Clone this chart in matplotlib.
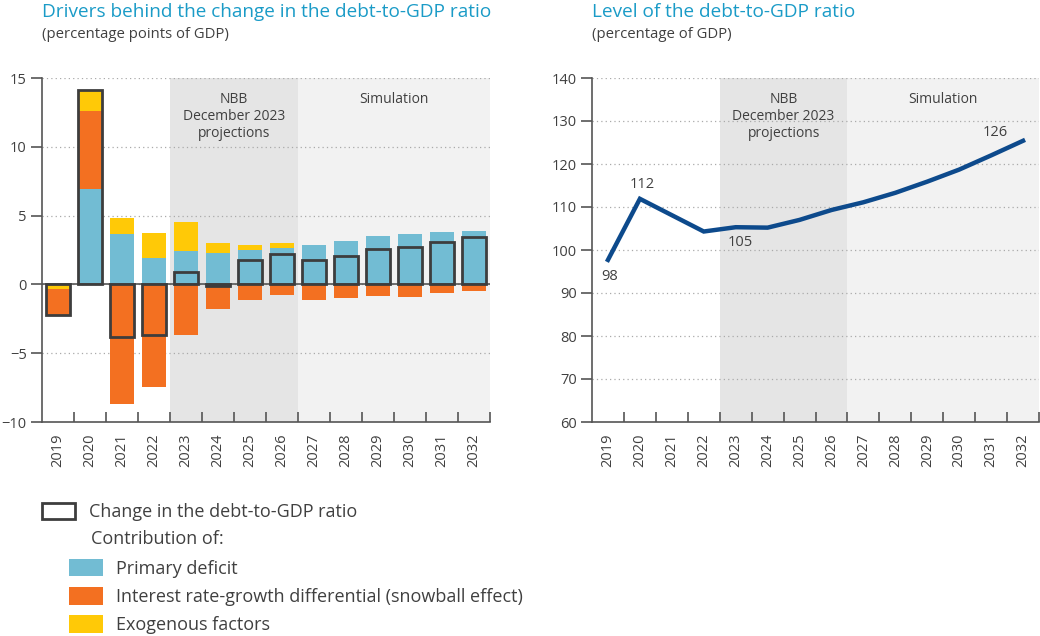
import numpy as np
import matplotlib
matplotlib.use("Agg")
import matplotlib.pyplot as plt
from matplotlib.patches import Patch

plt.rcParams['font.family'] = ['Open Sans', 'DejaVu Sans']

years = ['2019', '2020', '2021', '2022', '2023', '2024', '2025', '2026',
         '2027', '2028', '2029', '2030', '2031', '2032']
primary = [-0.05, 6.9, 3.65, 1.9, 2.4, 2.3, 2.5, 2.65, 2.85, 3.15, 3.5, 3.65, 3.8, 3.9]
snowball = [-1.85, 5.7, -8.7, -7.45, -3.65, -1.8, -1.1, -0.8, -1.1, -1.0, -0.85, -0.9, -0.65, -0.45]
exogenous = [-0.3, 1.5, 1.15, 1.8, 2.15, 0.7, 0.35, 0.35, 0.0, 0.0, 0.0, 0.0, 0.0, 0.0]
change = [-2.2, 14.1, -3.85, -3.65, 0.9, -0.1, 1.75, 2.2, 1.75, 2.1, 2.6, 2.75, 3.05, 3.45]
debt = [97.7, 111.9, 108.1, 104.3, 105.3, 105.2, 107.0, 109.3, 111.1, 113.3, 115.9, 118.7, 122.0, 125.4]
debt_labels = ['98', '112', '', '', '105', '', '', '', '', '', '', '', '', '126']
# label offsets in points (dx, dy) relative to the point
label_off = {0: (1, -12), 1: (2, 10), 4: (3, -11), 13: (-20, 6)}

c_blue = '#72bcd3'
c_orange = '#f37021'
c_yellow = '#ffc907'
c_box = '#3d3d3d'
c_title = '#1a9bc7'
c_text = '#404040'
c_proj = '#e5e5e5'
c_sim = '#f2f2f2'
c_line = '#0d4a8c'

fig = plt.figure(figsize=(10.4, 6.36), dpi=100)
ax1 = fig.add_axes([42/1040, 1-422/636, 448/1040, 344/636])
ax2 = fig.add_axes([592/1040, 1-422/636, 447/1040, 344/636])

x = np.arange(len(years))


def style_axis(ax, ymin, ymax, step):
    ax.set_xlim(-0.5, len(years)-0.5)
    ax.set_ylim(ymin, ymax)
    ax.axvspan(3.5, 7.5, color=c_proj, zorder=0, lw=0)
    ax.axvspan(7.5, len(years)-0.5, color=c_sim, zorder=0, lw=0)
    for s in ['top', 'right']:
        ax.spines[s].set_visible(False)
    for s in ['left', 'bottom']:
        ax.spines[s].set_color('#555555')
        ax.spines[s].set_linewidth(1.2)
    yt = np.arange(ymin, ymax+step, step)
    ax.set_yticks(yt)
    ax.set_yticklabels([str(int(v)).replace('-', '\u2212') for v in yt])
    for v in yt[1:]:
        ax.axhline(v, color='#aaaaaa', lw=0.9, ls=(0, (1, 2.5)), zorder=0.5)
    ax.set_xticks(x)
    ax.set_xticklabels(years, rotation=90)
    ax.set_xticks(np.arange(0.5, len(years)), minor=True)
    ax.tick_params(axis='x', which='major', length=0, pad=8, labelsize=10.5, labelcolor=c_text)
    ax.tick_params(axis='x', which='minor', direction='in', length=7, width=1.2, color='#555555')
    ax.tick_params(axis='y', length=8, width=1.2, color='#555555', labelsize=10.5,
                   labelcolor=c_text, pad=3)
    ax.text(5.5, ymax - (ymax-ymin)*0.042, 'NBB\nDecember 2023\nprojections', ha='center',
            va='top', fontsize=10, color=c_text, linespacing=1.15)
    ax.text(10.5, ymax - (ymax-ymin)*0.042, 'Simulation', ha='center', va='top',
            fontsize=10, color=c_text)


# left chart: stacked contributions
style_axis(ax1, -10, 15, 5)
pos_base = np.zeros(len(years))
neg_base = np.zeros(len(years))
comp = [(primary, c_blue), (snowball, c_orange), (exogenous, c_yellow)]
neg_order = [(primary, c_blue), (exogenous, c_yellow), (snowball, c_orange)]
for vals, col in comp:
    v = np.array(vals)
    p = np.where(v > 0, v, 0)
    ax1.bar(x, p, 0.76, bottom=pos_base, color=col, zorder=2)
    pos_base = pos_base + p
for vals, col in neg_order:
    v = np.array(vals)
    n = np.where(v < 0, v, 0)
    ax1.bar(x, n, 0.76, bottom=neg_base, color=col, zorder=2)
    neg_base = neg_base + n
ax1.axhline(0, color='#555555', lw=1.2, zorder=2.5)
ax1.bar(x, change, 0.76, facecolor='none', edgecolor=c_box, lw=2, zorder=3)

# right chart: debt level
style_axis(ax2, 60, 140, 10)
ax2.plot(x, debt, color=c_line, lw=3.2, zorder=3, solid_joinstyle='miter')
for i, lab in enumerate(debt_labels):
    if lab:
        ax2.annotate(lab, (x[i], debt[i]), xytext=label_off[i], textcoords='offset points',
                     ha='center', va='center', fontsize=10.5, color=c_text)

# titles
fig.text(42/1040, 1-12/636, 'Drivers behind the change in the debt-to-GDP ratio',
         fontsize=13.7, color=c_title, va='center')
fig.text(42/1040, 1-34/636, '(percentage points of GDP)', fontsize=10.7, color=c_text, va='center')
fig.text(592/1040, 1-12/636, 'Level of the debt-to-GDP ratio',
         fontsize=13.7, color=c_title, va='center')
fig.text(592/1040, 1-34/636, '(percentage of GDP)', fontsize=10.7, color=c_text, va='center')

# legend
h_box = Patch(facecolor='white', edgecolor=c_box, lw=2)
fig.legend([h_box], ['Change in the debt-to-GDP ratio'], loc='upper left',
           bbox_to_anchor=(42/1040, 1-503/636), frameon=False, fontsize=13,
           handlelength=1.85, handleheight=0.95, handletextpad=0.75, labelcolor=c_text,
           borderpad=0, borderaxespad=0)
fig.text(91/1040, 1-539/636, 'Contribution of:', fontsize=13, color=c_text, va='center')
h_c = [Patch(facecolor=c_blue), Patch(facecolor=c_orange), Patch(facecolor=c_yellow)]
fig.legend(h_c, ['Primary deficit', 'Interest rate-growth differential (snowball effect)',
                 'Exogenous factors'], loc='upper left', bbox_to_anchor=(69/1040, 1-559/636),
           frameon=False, fontsize=13, handlelength=1.9, handleheight=1.1,
           handletextpad=0.72, labelspacing=0.52, labelcolor=c_text, borderpad=0,
           borderaxespad=0)

fig.savefig('out.png', dpi=100)
